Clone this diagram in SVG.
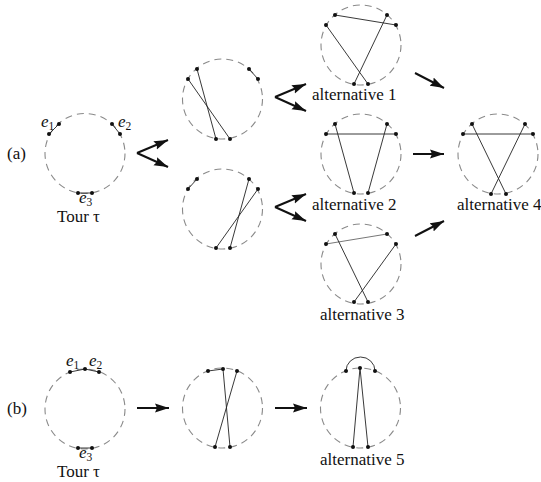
<svg xmlns="http://www.w3.org/2000/svg" width="541" height="482" viewBox="0 0 541 482">
<style>
text{font-family:"Liberation Serif","Times New Roman","DejaVu Serif",serif;font-size:17px;fill:#111}
.it{font-style:italic}
.sub{font-size:11.5px;font-style:normal}
.tour{fill:none;stroke:#8a8a8a;stroke-width:1.1;stroke-dasharray:7 5}
.e{fill:none;stroke:#222;stroke-width:0.9}
.g{fill:none;stroke:#777;stroke-width:1}
.d{fill:#111}
.arr{fill:none;stroke:#111;stroke-width:2;marker-end:url(#ah)}
</style>
<defs>
<marker id="ah" markerUnits="userSpaceOnUse" markerWidth="16" markerHeight="10" refX="14" refY="5" orient="auto">
<path d="M0,0.5 L14,5 L0,9.5 L2,5 z" fill="#111"/>
</marker>
</defs>
<text x="7" y="159">(a)</text>
<text x="7" y="414">(b)</text>

<g id="tour-a">
<circle class="tour" cx="85" cy="153.5" r="40"/>
<line class="e" x1="49" y1="134" x2="59" y2="124"/>
<line class="e" x1="112" y1="124" x2="120" y2="134"/>
<line class="e" x1="78" y1="193" x2="92" y2="193"/>
<circle class="d" cx="49" cy="134" r="2"/><circle class="d" cx="59" cy="124" r="2"/>
<circle class="d" cx="112" cy="124" r="2"/><circle class="d" cx="120" cy="134" r="2"/>
<circle class="d" cx="78" cy="193" r="2"/><circle class="d" cx="92" cy="193" r="2"/>
<text x="41" y="127" class="it">e<tspan class="sub" dy="3">1</tspan></text>
<text x="118" y="127" class="it">e<tspan class="sub" dy="3">2</tspan></text>
<text x="79" y="203" class="it">e<tspan class="sub" dy="3">3</tspan></text>
<text x="57" y="222">Tour τ</text>
</g>

<g id="step-a1">
<circle class="tour" cx="222.5" cy="99" r="40"/>
<line class="e" x1="249" y1="69" x2="258" y2="79"/>
<line class="e" x1="197" y1="69" x2="216" y2="139"/>
<line class="e" x1="188" y1="79" x2="230" y2="139"/>
<circle class="d" cx="197" cy="69" r="2"/><circle class="d" cx="188" cy="79" r="2"/>
<circle class="d" cx="249" cy="69" r="2"/><circle class="d" cx="258" cy="79" r="2"/>
<circle class="d" cx="216" cy="139" r="2"/><circle class="d" cx="230" cy="139" r="2"/>
</g>

<g id="step-a2">
<circle class="tour" cx="222.5" cy="209" r="40"/>
<line class="e" x1="188" y1="189" x2="197" y2="179"/>
<line class="e" x1="249" y1="179" x2="230" y2="248"/>
<line class="e" x1="258" y1="189" x2="216" y2="248"/>
<circle class="d" cx="197" cy="179" r="2"/><circle class="d" cx="188" cy="189" r="2"/>
<circle class="d" cx="249" cy="179" r="2"/><circle class="d" cx="258" cy="189" r="2"/>
<circle class="d" cx="216" cy="248" r="2"/><circle class="d" cx="230" cy="248" r="2"/>
</g>

<g id="alt1">
<circle class="tour" cx="361" cy="45" r="40"/>
<line class="e" x1="335" y1="15" x2="396" y2="25"/>
<line class="e" x1="387" y1="15" x2="354" y2="84"/>
<line class="e" x1="326" y1="25" x2="368" y2="84"/>
<circle class="d" cx="335" cy="15" r="2"/><circle class="d" cx="326" cy="25" r="2"/>
<circle class="d" cx="387" cy="15" r="2"/><circle class="d" cx="396" cy="25" r="2"/>
<circle class="d" cx="354" cy="84" r="2"/><circle class="d" cx="368" cy="84" r="2"/>
<text x="312" y="100">alternative 1</text>
</g>

<g id="alt2">
<circle class="tour" cx="361" cy="154" r="40"/>
<line class="e" x1="326" y1="134" x2="396" y2="134"/>
<line class="e" x1="335" y1="124" x2="354" y2="193"/>
<line class="e" x1="387" y1="124" x2="368" y2="193"/>
<circle class="d" cx="335" cy="124" r="2"/><circle class="d" cx="326" cy="134" r="2"/>
<circle class="d" cx="387" cy="124" r="2"/><circle class="d" cx="396" cy="134" r="2"/>
<circle class="d" cx="354" cy="193" r="2"/><circle class="d" cx="368" cy="193" r="2"/>
<text x="312" y="210">alternative 2</text>
</g>

<g id="alt3">
<circle class="tour" cx="361" cy="264" r="40"/>
<line class="g" x1="326" y1="244" x2="387" y2="234"/>
<line class="e" x1="335" y1="234" x2="368" y2="302"/>
<line class="e" x1="396" y1="244" x2="354" y2="302"/>
<circle class="d" cx="335" cy="234" r="2"/><circle class="d" cx="326" cy="244" r="2"/>
<circle class="d" cx="387" cy="234" r="2"/><circle class="d" cx="396" cy="244" r="2"/>
<circle class="d" cx="354" cy="302" r="2"/><circle class="d" cx="368" cy="302" r="2"/>
<text x="320" y="320">alternative 3</text>
</g>

<g id="alt4">
<circle class="tour" cx="498" cy="154" r="40"/>
<line class="e" x1="463" y1="134" x2="533" y2="134"/>
<line class="e" x1="472" y1="124" x2="506" y2="194"/>
<line class="e" x1="525" y1="124" x2="491" y2="194"/>
<circle class="d" cx="472" cy="124" r="2"/><circle class="d" cx="463" cy="134" r="2"/>
<circle class="d" cx="525" cy="124" r="2"/><circle class="d" cx="533" cy="134" r="2"/>
<circle class="d" cx="491" cy="194" r="2"/><circle class="d" cx="506" cy="194" r="2"/>
<text x="457" y="210">alternative 4</text>
</g>

<g id="tour-b">
<circle class="tour" cx="85" cy="409" r="40"/>
<polyline class="e" points="70,372 85,369 99,372"/>
<line class="e" x1="78" y1="448" x2="92" y2="448"/>
<circle class="d" cx="70" cy="372" r="2"/><circle class="d" cx="85" cy="369" r="2"/><circle class="d" cx="99" cy="372" r="2"/>
<circle class="d" cx="78" cy="448" r="2"/><circle class="d" cx="92" cy="448" r="2"/>
<text x="66" y="366" class="it">e<tspan class="sub" dy="3">1</tspan></text>
<text x="89" y="366" class="it">e<tspan class="sub" dy="3">2</tspan></text>
<text x="79" y="458" class="it">e<tspan class="sub" dy="3">3</tspan></text>
<text x="57" y="477">Tour τ</text>
</g>

<g id="step-b1">
<circle class="tour" cx="222.5" cy="408" r="40"/>
<line class="e" x1="208" y1="371" x2="223" y2="369"/>
<line class="e" x1="223" y1="369" x2="230" y2="447"/>
<line class="e" x1="237" y1="371" x2="215" y2="447"/>
<circle class="d" cx="208" cy="371" r="2"/><circle class="d" cx="223" cy="369" r="2"/><circle class="d" cx="237" cy="371" r="2"/>
<circle class="d" cx="215" cy="447" r="2"/><circle class="d" cx="230" cy="447" r="2"/>
</g>

<g id="alt5">
<circle class="tour" cx="360.5" cy="408" r="40"/>
<path class="e" d="M346,371 A14.5,14 0 0 1 375,371"/>
<line class="e" x1="360" y1="368" x2="353" y2="447"/>
<line class="e" x1="360" y1="368" x2="368" y2="447"/>
<circle class="d" cx="346" cy="371" r="2"/><circle class="d" cx="360" cy="368" r="2"/><circle class="d" cx="375" cy="371" r="2"/>
<circle class="d" cx="353" cy="447" r="2"/><circle class="d" cx="368" cy="447" r="2"/>
<text x="320" y="465">alternative 5</text>
</g>

<g id="connectors">
<line class="arr" x1="137" y1="153" x2="168" y2="140"/>
<line class="arr" x1="137" y1="153" x2="168" y2="167"/>
<line class="arr" x1="275" y1="97" x2="306" y2="84"/>
<line class="arr" x1="275" y1="97" x2="306" y2="111"/>
<line class="arr" x1="275" y1="207" x2="306" y2="194"/>
<line class="arr" x1="275" y1="207" x2="306" y2="221"/>
<line class="arr" x1="415" y1="73" x2="444" y2="88"/>
<line class="arr" x1="413" y1="154" x2="444" y2="154"/>
<line class="arr" x1="415" y1="236" x2="444" y2="221"/>
<line class="arr" x1="137" y1="408" x2="169" y2="408"/>
<line class="arr" x1="275" y1="408" x2="307" y2="408"/>
</g>
</svg>
